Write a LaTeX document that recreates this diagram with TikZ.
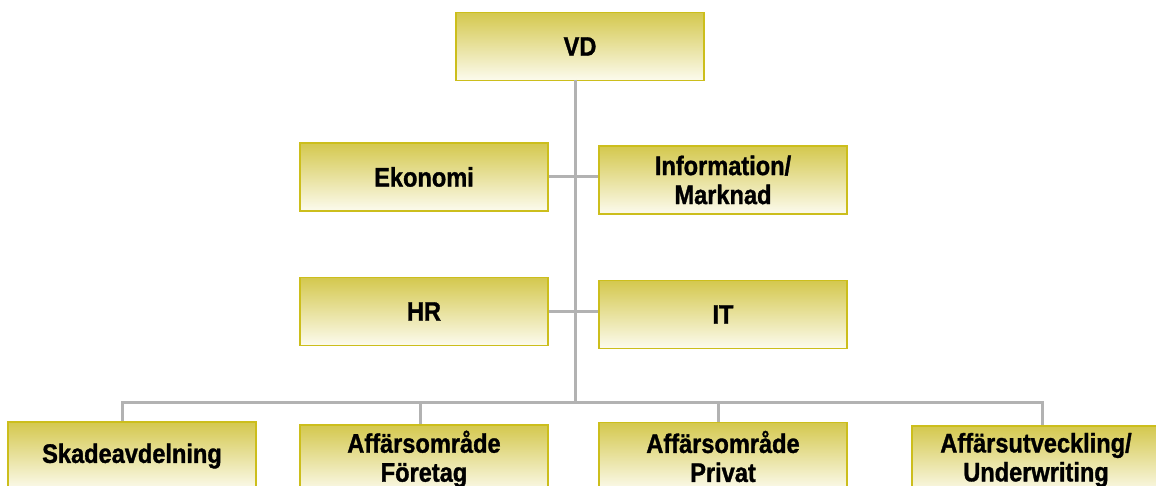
\documentclass[tikz,border=0pt]{standalone}
\usepackage{fontspec}
\setmainfont[FakeStretch=0.88, BoldFeatures={FakeBold=1.2}]{Liberation Sans}
\usetikzlibrary{calc}
\definecolor{boxtop}{RGB}{212,200,78}
\definecolor{boxbot}{RGB}{252,251,238}
\definecolor{boxline}{RGB}{204,190,28}
\definecolor{linkgray}{RGB}{178,178,178}
\begin{document}
\begin{tikzpicture}[x=0.5pt, y=-0.5pt]
            \tikzstyle{unit} = [draw=boxline, line width=0.8pt, top color=boxtop, bottom color=boxbot,
                minimum width=124pt, minimum height=34pt, inner sep=0pt, align=center,
                font=\fontsize{13.4}{14.5}\selectfont\bfseries]
            \tikzstyle{link} = [draw=linkgray, line width=1.5pt]
            \useasboundingbox (0, 0) rectangle (1156, 486);
            \clip (0, 0) rectangle (1156, 486);

            \node[unit] (vd) at (580, 46.5) {VD};
            \node[unit] (ekonomi) at (424, 177) {Ekonomi};
            \node[unit] (info) at (723, 180) {Information/\\Marknad};
            \node[unit] (hr) at (424, 311.5) {HR};
            \node[unit] (it) at (723, 314.5) {IT};

            \node[unit] (skada) at (132, 456) {Skadeavdelning};
            \node[unit] (foretag) at (424, 459) {Affärsområde\\Företag};
            \node[unit] (privat) at (723, 456.5) {Affärsområde\\Privat};
            \node[unit] (utv) at (1036, 460) {Affärsutveckling/\\Underwriting};

            % trunk and bus
            \coordinate (top) at (575, 80);
            \coordinate (bus) at (575, 402);
            \draw[link] (top) -- (bus);
            \draw[link] (ekonomi.east) -- (ekonomi.east -| info.west);
            \draw[link] (hr.east) -- (hr.east -| it.west);
            \draw[link] ($(skada.north)+(-10,0)$) |- (bus);
            \draw[link] ($(foretag.north)+(-4,0)$) |- (bus);
            \draw[link] ($(privat.north)+(-5,0)$) |- (bus);
            \draw[link] ($(utv.north)+(6,0)$) |- (bus);
        \end{tikzpicture}
\end{document}
